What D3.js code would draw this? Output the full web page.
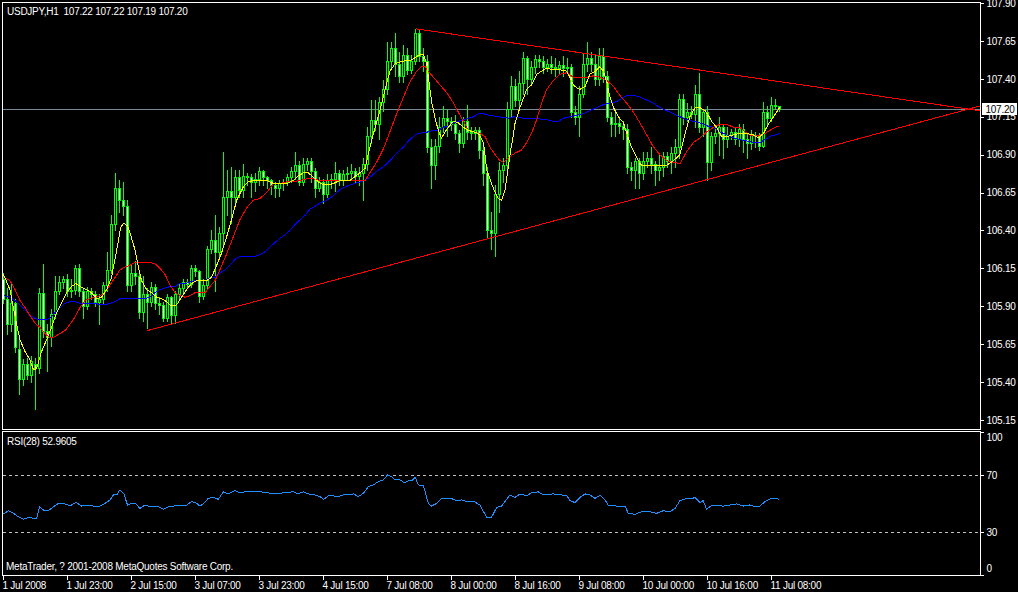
<!DOCTYPE html>
<html><head><meta charset="utf-8">
<script src="https://cdn.jsdelivr.net/npm/d3@7"></script>
<style>html,body{margin:0;padding:0;background:#000;overflow:hidden}svg{display:block}</style>
</head><body>
<svg id="c" width="1018" height="592"></svg>
<script>
// ---------- DATA ----------
const chartTitle = "USDJPY,H1  107.22 107.22 107.19 107.20";
const rsiTitle = "RSI(28) 52.9605";
const copyright = "MetaTrader, ? 2001-2008 MetaQuotes Software Corp.";
const lastPrice = 107.20;

const timeTicks = [0,16,32,48,64,80,96,112,128,144,160,176,192];
const timeLabels = ["1 Jul 2008","1 Jul 23:00","2 Jul 15:00","3 Jul 07:00","3 Jul 23:00","4 Jul 15:00","7 Jul 08:00","8 Jul 00:00","8 Jul 16:00","9 Jul 08:00","10 Jul 00:00","10 Jul 16:00","11 Jul 08:00"];
const priceTicks = [107.90,107.65,107.40,107.15,106.90,106.65,106.40,106.15,105.90,105.65,105.40,105.15];
const rsiTicks = [100,70,30,0];
const rsiLevels = [70,30];

const barOpen = [106.08,105.95,105.78,105.92,105.62,105.42,105.52,105.45,105.52,105.49,
105.99,105.74,105.70,105.85,106.00,106.06,106.08,106.00,106.01,106.15,
106.00,105.90,106.00,105.98,105.93,105.95,106.04,106.14,106.44,106.68,
106.60,106.56,106.04,106.12,106.10,105.86,105.98,105.93,106.03,105.92,
105.91,105.82,105.96,105.84,105.98,106.02,106.06,106.05,106.15,106.13,
105.97,106.04,106.28,106.34,106.26,106.38,106.62,106.66,106.62,106.75,
106.67,106.76,106.75,106.72,106.74,106.79,106.75,106.73,106.70,106.68,
106.71,106.72,106.75,106.79,106.83,106.72,106.84,106.86,106.79,106.68,
106.72,106.64,106.73,106.74,106.78,106.73,106.77,106.78,106.79,106.76,
106.78,106.84,107.02,107.13,107.10,107.25,107.33,107.52,107.60,107.50,
107.42,107.56,107.46,107.52,107.70,107.55,107.52,106.95,106.83,106.96,
107.08,107.14,107.12,107.10,107.04,106.98,107.12,107.05,107.04,107.06,
106.93,106.78,106.40,106.38,106.64,106.80,106.83,107.20,107.35,107.26,
107.37,107.54,107.40,107.48,107.53,107.52,107.48,107.50,107.48,107.47,
107.49,107.47,107.48,107.18,107.15,107.30,107.50,107.54,107.50,107.40,
107.55,107.42,107.15,107.10,107.11,107.09,107.07,106.82,106.80,106.86,
106.78,106.86,106.88,106.84,106.80,106.82,106.89,106.86,106.91,106.95,
107.27,107.15,107.18,107.17,107.30,107.08,107.18,106.85,107.02,107.04,
107.08,107.00,107.03,107.05,107.00,107.07,107.00,106.98,107.03,107.02,
106.96,107.18,107.14,107.23,107.22];
const barHigh = [106.12,106.02,106.05,105.95,105.68,105.55,105.56,105.57,105.56,106.02,
106.18,105.78,105.88,106.10,106.10,106.10,106.11,106.08,106.17,106.18,
106.02,106.03,106.02,106.00,105.98,106.06,106.26,106.50,106.78,106.73,
106.72,106.60,106.18,106.20,106.14,106.10,106.02,106.06,106.05,105.96,
105.93,105.98,105.97,106.00,106.05,106.08,106.08,106.17,106.17,106.14,
106.08,106.30,106.40,106.50,106.42,106.92,106.80,106.82,106.80,106.80,
106.84,106.78,106.77,106.78,106.82,106.80,106.76,106.74,106.72,106.73,
106.74,106.77,106.82,106.92,106.86,106.88,106.88,106.88,106.81,106.75,
106.74,106.77,106.77,106.85,106.80,106.80,106.82,106.84,106.81,106.82,
106.88,107.08,107.26,107.26,107.28,107.39,107.64,107.64,107.70,107.58,
107.62,107.60,107.56,107.73,107.72,107.60,107.56,107.00,107.00,107.15,
107.22,107.20,107.15,107.16,107.06,107.15,107.23,107.08,107.08,107.08,
106.95,106.82,106.52,106.70,106.85,106.88,107.25,107.42,107.40,107.45,
107.58,107.55,107.52,107.56,107.56,107.55,107.53,107.55,107.54,107.52,
107.55,107.54,107.50,107.22,107.35,107.57,107.64,107.58,107.56,107.60,
107.60,107.45,107.18,107.18,107.15,107.12,107.10,106.85,106.88,106.88,
106.92,106.92,106.95,106.86,106.90,106.92,106.92,106.95,107.00,107.30,
107.30,107.24,107.22,107.36,107.44,107.20,107.22,107.05,107.08,107.15,
107.10,107.08,107.07,107.08,107.10,107.10,107.04,107.06,107.05,107.04,
107.25,107.22,107.28,107.27,107.22];
const barLow = [105.92,105.72,105.74,105.60,105.32,105.38,105.42,105.40,105.22,105.46,
105.70,105.47,105.64,105.82,105.98,106.02,105.97,105.96,105.98,105.97,
105.82,105.88,105.95,105.90,105.78,105.92,106.00,106.12,106.40,106.52,
106.50,106.00,106.00,106.05,105.82,105.80,105.76,105.90,105.88,105.85,
105.80,105.80,105.78,105.79,105.95,105.98,106.02,106.03,106.10,105.93,
105.95,106.02,106.25,106.00,106.22,106.30,106.50,106.45,106.58,106.62,
106.62,106.70,106.62,106.66,106.70,106.70,106.68,106.64,106.62,106.63,
106.67,106.70,106.72,106.74,106.70,106.70,106.80,106.72,106.62,106.66,
106.58,106.62,106.68,106.66,106.70,106.70,106.73,106.74,106.72,106.70,
106.60,106.80,106.98,107.06,107.00,107.19,107.30,107.48,107.42,107.38,
107.38,107.43,107.44,107.50,107.52,107.45,106.92,106.68,106.74,106.92,
107.05,107.02,107.06,107.00,106.92,106.95,107.00,107.00,107.00,106.88,
106.70,106.35,106.28,106.23,106.52,106.72,106.80,107.15,107.22,107.22,
107.30,107.30,107.36,107.44,107.48,107.44,107.45,107.44,107.42,107.43,
107.42,107.44,107.15,107.10,107.02,107.28,107.45,107.45,107.36,107.36,
107.38,107.12,107.02,107.02,107.04,107.00,106.78,106.73,106.68,106.68,
106.74,106.82,106.78,106.70,106.73,106.76,106.82,106.78,106.82,106.88,
107.10,107.12,107.14,107.08,107.05,107.02,106.73,106.80,106.98,106.90,
106.88,106.95,107.00,106.97,106.96,106.92,106.88,106.94,106.95,106.93,
106.95,107.10,107.12,107.20,107.19];
const barClose = [105.95,105.78,105.92,105.63,105.42,105.52,105.45,105.54,105.49,105.99,
105.74,105.70,105.85,106.00,106.06,106.08,106.00,106.01,106.15,106.00,
105.90,106.00,105.98,105.93,105.95,106.04,106.14,106.44,106.68,106.60,
106.56,106.04,106.12,106.10,105.86,105.98,105.93,106.03,105.92,105.91,
105.82,105.96,105.84,105.98,106.02,106.06,106.05,106.15,106.13,105.97,
106.04,106.28,106.34,106.26,106.38,106.62,106.66,106.62,106.75,106.67,
106.76,106.75,106.72,106.74,106.79,106.75,106.73,106.70,106.68,106.71,
106.72,106.75,106.79,106.83,106.72,106.84,106.86,106.79,106.68,106.72,
106.64,106.73,106.74,106.78,106.73,106.77,106.78,106.79,106.76,106.78,
106.84,107.02,107.13,107.10,107.25,107.33,107.52,107.60,107.50,107.42,
107.56,107.46,107.52,107.70,107.55,107.52,106.95,106.83,106.96,107.08,
107.14,107.12,107.10,107.04,106.98,107.12,107.05,107.04,107.06,106.93,
106.78,106.40,106.38,106.64,106.80,106.83,107.20,107.35,107.26,107.37,
107.54,107.40,107.48,107.53,107.52,107.48,107.50,107.48,107.47,107.49,
107.47,107.48,107.18,107.15,107.30,107.50,107.54,107.50,107.40,107.55,
107.42,107.15,107.10,107.11,107.09,107.07,106.82,106.80,106.86,106.78,
106.86,106.88,106.84,106.80,106.82,106.89,106.86,106.91,106.95,107.27,
107.15,107.18,107.17,107.30,107.08,107.18,106.85,107.02,107.04,107.08,
107.00,107.03,107.05,107.00,107.07,107.00,106.98,107.03,107.02,106.96,
107.18,107.14,107.23,107.22,107.20];

// moving averages: [bar index, price]
const maFast = [[0,106.11],[1.6,106.01],[2.9,105.83],[4.1,105.68],[5.4,105.60],[6.6,105.55],[7.5,105.48],[8.3,105.49],[9.5,105.60],[10.8,105.68],[12,105.76],[13.3,105.86],[14.5,105.92],[15.8,105.99],[17,106.03],[18.1,106.05],[19.1,106.03],[20.8,106.01],[22,105.99],[23.3,105.95],[24.5,105.96],[25.8,106.01],[27,106.09],[28.3,106.27],[29.3,106.42],[30.1,106.45],[31.2,106.42],[32,106.35],[32.9,106.27],[33.7,106.16],[34.5,106.07],[35.8,106.01],[37,105.99],[38.3,105.96],[39.5,105.95],[40.8,105.93],[42,105.90],[43.3,105.91],[44.5,105.96],[45.8,106.01],[47,106.05],[48.3,106.07],[49.5,106.07],[50.8,106.07],[52,106.09],[53.3,106.17],[54.5,106.25],[55.8,106.36],[57,106.47],[58.3,106.60],[60,106.69],[61.2,106.72],[62.5,106.73],[64.1,106.73],[65.8,106.73],[67.5,106.71],[69.1,106.71],[70.8,106.71],[72.5,106.73],[73.7,106.76],[75,106.78],[76.2,106.78],[77.5,106.75],[78.7,106.72],[80,106.70],[81.2,106.70],[82.5,106.71],[84.1,106.73],[86.6,106.73],[89.1,106.78],[90.4,106.81],[91.6,106.95],[92.9,107.08],[94.1,107.19],[95.4,107.33],[96.6,107.45],[97.9,107.50],[99.1,107.51],[100.4,107.52],[101.6,107.52],[102.9,107.54],[104.1,107.56],[105,107.56],[105.8,107.50],[106.5,107.35],[107.1,107.24],[107.9,107.14],[108.7,107.06],[109.5,107.01],[110.4,107.05],[111.2,107.08],[112.5,107.12],[113.7,107.11],[115,107.08],[116.2,107.06],[117.5,107.05],[118.7,107.04],[120,106.98],[120.8,106.80],[122,106.71],[122.9,106.65],[123.7,106.61],[124.5,106.60],[125.4,106.67],[126.2,106.82],[126.8,106.93],[127.3,107.00],[127.9,107.11],[129.1,107.21],[130.8,107.33],[132,107.36],[133.3,107.43],[134.5,107.45],[135.8,107.47],[137.5,107.46],[139.1,107.46],[140.8,107.45],[141.6,107.41],[142.5,107.36],[143.3,107.34],[144.1,107.33],[145.4,107.35],[146.6,107.43],[147.9,107.45],[149.1,107.48],[150,107.45],[150.8,107.38],[151.6,107.28],[152.5,107.21],[153.7,107.15],[155,107.11],[155.8,107.04],[157,106.95],[158.3,106.88],[159.5,106.83],[160.8,106.83],[162.5,106.83],[164.1,106.83],[165.8,106.83],[167.5,106.86],[169.1,106.90],[170.4,107.04],[171.6,107.15],[172.9,107.21],[174.1,107.21],[175.4,107.19],[176.2,107.16],[177,107.12],[178.3,107.08],[179.5,107.02],[180.8,107.02],[182.5,107.03],[184.1,107.04],[185.8,107.04],[187.5,107.03],[188.7,107.01],[190,107.04],[191.2,107.10],[192.5,107.15],[194,107.21]];
const maMid = [[0,106.09],[1.6,106.07],[2.9,106.01],[4.1,105.94],[5.4,105.89],[6.6,105.84],[7.9,105.79],[9.1,105.76],[10.4,105.72],[11.6,105.69],[12.9,105.70],[14.1,105.72],[15.4,105.74],[16.6,105.78],[17.9,105.83],[19.1,105.89],[20.4,105.94],[21.6,105.95],[22.9,105.96],[24.1,105.97],[25.4,105.99],[26.6,106.04],[27.9,106.09],[29.1,106.14],[30.4,106.16],[31.6,106.17],[32.9,106.19],[34.1,106.19],[35.4,106.19],[36.6,106.19],[37.9,106.18],[39.1,106.15],[40.4,106.11],[41.6,106.04],[42.9,105.99],[44.1,105.97],[45.4,105.96],[46.6,105.97],[47.9,105.99],[49.1,105.99],[50.4,105.99],[51.6,106.03],[52.9,106.07],[54.1,106.14],[55.4,106.22],[56.6,106.30],[57.9,106.39],[59.1,106.47],[60.8,106.55],[62.5,106.60],[64.1,106.61],[65.8,106.65],[67.5,106.71],[69.1,106.71],[70.8,106.72],[72.5,106.72],[74.1,106.73],[75.8,106.74],[77.5,106.74],[79.1,106.73],[82.5,106.73],[86.6,106.73],[90.4,106.73],[91.6,106.78],[93.3,106.85],[95,106.94],[96.6,107.05],[98.3,107.17],[100,107.28],[101.6,107.38],[103.3,107.45],[104.5,107.48],[105.4,107.48],[106.2,107.45],[107.5,107.41],[109.1,107.36],[110.8,107.31],[112.5,107.24],[113.7,107.18],[115,107.12],[116.2,107.06],[117.5,107.05],[119.1,107.04],[120.4,107.02],[121.6,106.95],[122.9,106.90],[124.1,106.86],[125,106.85],[126.2,106.88],[127.9,106.91],[129.5,106.93],[130.8,106.98],[132,107.04],[133.3,107.13],[134.5,107.24],[135.8,107.33],[137.5,107.39],[139.1,107.43],[140.8,107.44],[142.5,107.41],[144.1,107.41],[145.8,107.41],[147.5,107.42],[149.1,107.41],[150.8,107.39],[152.5,107.35],[154.1,107.29],[155.8,107.24],[157.5,107.18],[159.1,107.11],[160.8,107.03],[162.5,106.95],[164.1,106.90],[165.8,106.86],[167.5,106.85],[169.1,106.84],[170.8,106.92],[172.5,106.98],[174.1,107.01],[175.8,107.05],[177.5,107.08],[179.1,107.10],[180.8,107.10],[182.5,107.08],[184.1,107.08],[185.4,107.05],[186.6,107.03],[187.9,107.02],[189.1,107.03],[190.4,107.04],[191.6,107.06],[192.9,107.08],[194,107.09]];
const maSlow = [[0,105.97],[1.6,105.96],[3.3,105.93],[4.9,105.89],[6.6,105.84],[7.9,105.82],[9.1,105.81],[10.4,105.81],[11.6,105.82],[12.9,105.86],[14.1,105.89],[15.4,105.92],[16.6,105.93],[17.9,105.93],[19.1,105.92],[22.9,105.92],[24.1,105.91],[25.4,105.91],[26.6,105.92],[27.9,105.93],[29.1,105.95],[30.4,105.95],[35.4,105.95],[36.6,105.96],[37.9,105.99],[39.1,106.01],[40.4,106.02],[41.6,106.03],[42.9,106.03],[44.1,106.05],[45.4,106.05],[46.6,106.06],[47.9,106.07],[50.4,106.07],[51.6,106.09],[52.9,106.09],[54.1,106.12],[55.4,106.14],[56.6,106.17],[57.9,106.21],[59.1,106.23],[62.9,106.23],[64.1,106.24],[65.4,106.26],[66.6,106.29],[67.9,106.32],[69.1,106.35],[70.4,106.37],[71.6,106.40],[72.9,106.44],[74.1,106.47],[75.4,106.50],[76.6,106.54],[77.9,106.56],[79.1,106.58],[80.8,106.60],[82.5,106.63],[84.1,106.67],[86.6,106.70],[89.1,106.72],[90.4,106.73],[91.6,106.75],[93.3,106.79],[95,106.82],[96.6,106.86],[98.3,106.91],[100,106.95],[101.6,107.00],[102.9,107.03],[103.7,107.04],[106.2,107.05],[107.5,107.06],[108.7,107.06],[110,107.08],[111.2,107.09],[112.5,107.11],[113.7,107.12],[115,107.13],[116.2,107.14],[117.5,107.15],[118.7,107.17],[120,107.17],[121.2,107.16],[123.7,107.15],[126.2,107.14],[127.5,107.15],[130,107.14],[132.5,107.14],[135.8,107.13],[137.5,107.12],[138.7,107.12],[140,107.14],[141.6,107.15],[143.3,107.16],[145,107.17],[146.6,107.19],[148.3,107.21],[150,107.23],[151.6,107.24],[153.3,107.25],[154.5,107.27],[155.8,107.29],[157.5,107.29],[159.1,107.28],[160.8,107.26],[162.5,107.24],[164.1,107.21],[165.8,107.19],[167.5,107.17],[169.1,107.15],[170.8,107.13],[172.5,107.12],[174.1,107.11],[175.8,107.09],[177.5,107.08],[179.1,107.05],[180.8,107.03],[182.5,107.01],[184.1,107.00],[185.8,106.99],[187.5,106.98],[189.1,106.98],[190.4,107.00],[191.6,107.02],[192.9,107.03],[194,107.04]];

// RSI(28): [bar index, value]
const rsiValues = [[0,42.6],[1.2,44.9],[2.5,43.1],[3.7,40.7],[5,38.9],[6.2,40.3],[7.5,39.6],[8.3,39.6],[9,47.8],[10,45.4],[11.2,44.9],[12.5,47.8],[13.7,50.1],[15,50.1],[16.2,48.9],[17,48.9],[18.1,50.8],[19.5,48.2],[20.8,48.9],[22.5,48.2],[24.1,48.2],[25.4,50.1],[26.6,52.5],[27.5,56.0],[28.3,56.0],[29.1,59.5],[30.1,56.7],[31,48.9],[32,50.1],[33.1,49.7],[34.1,46.6],[35.4,48.9],[36.5,47.8],[37.5,48.2],[38.7,47.8],[40,45.9],[41.2,47.8],[42.5,48.2],[43.7,48.9],[45.8,48.9],[47,51.3],[48.3,50.1],[49.1,48.2],[50.1,50.1],[51.2,53.6],[52.5,54.3],[53.7,52.9],[55,58.3],[56.2,56.7],[57.9,59.0],[59.1,57.6],[60.8,58.3],[64.1,58.3],[65.8,57.6],[67.5,56.7],[69.1,57.2],[70.8,57.6],[72.5,58.3],[73.7,56.7],[75,58.3],[76.2,56.7],[77.9,56.0],[79.1,54.8],[80,52.9],[81.2,55.3],[82.5,55.3],[83.7,54.8],[85,56.0],[86.2,56.0],[87.5,56.7],[88.7,54.8],[90,57.2],[91.2,61.8],[92.5,63.0],[93.7,65.3],[95,66.5],[96,70.0],[97,68.8],[97.9,66.5],[99.1,66.5],[100.2,64.6],[101.2,65.8],[102,65.8],[102.9,68.4],[103.7,63.0],[105,62.3],[106.2,50.1],[107,48.2],[108.3,50.1],[109.5,53.4],[110.8,53.4],[112,53.4],[113.3,52.0],[114.5,52.5],[115.8,51.3],[117.5,51.6],[119.1,48.9],[120.8,40.3],[122,40.3],[123.3,47.3],[124.5,48.2],[126.6,56.0],[127.9,54.3],[129.1,56.7],[130.8,55.3],[132,57.6],[133.7,58.1],[135,56.0],[137.4,56.7],[139.1,56.0],[140.8,55.8],[141.6,52.0],[142.9,50.6],[144.1,54.3],[145.4,56.7],[146.6,56.0],[147.9,53.6],[149.1,55.8],[150.4,52.5],[151.2,48.7],[153.3,48.2],[155.4,48.2],[156.2,43.1],[157.9,42.4],[159.5,44.3],[161.6,44.3],[163.3,43.1],[164.9,44.9],[166.6,44.3],[167.9,46.6],[169.1,52.0],[170.4,53.2],[172,53.2],[172.9,54.3],[174.1,50.6],[174.9,52.0],[175.8,45.9],[177,48.7],[179.9,48.2],[181.6,48.9],[183.3,49.7],[184.9,48.2],[186.6,49.0],[187.9,47.8],[189.1,48.2],[190.4,51.3],[191.6,53.2],[192.9,53.6],[194,52.96]];

// trend lines: [bar index, price]
const trendUpper = [[103,107.73],[244,107.19]];
const trendLower = [[36,105.74],[244,107.22]];

// ---------- DRAW ----------
const FONT = "'Liberation Sans', Arial, sans-serif";
const FS = 10;
const svg = d3.select('#c');
svg.append('rect').attr('width',1018).attr('height',592).attr('fill','#000');

const x = d3.scaleLinear().domain([0,244]).range([3.5,979.5]);
const y = d3.scaleLinear().domain([105.15,107.90]).range([420,3]);
const yr = d3.scaleLinear().domain([0,100]).range([575,432]);
const crisp = v => Math.round(v) + 0.5;

const defs = svg.append('defs');
defs.append('clipPath').attr('id','mainClip').append('rect').attr('x',3).attr('y',3).attr('width',977).attr('height',426);
defs.append('clipPath').attr('id','rsiClip').append('rect').attr('x',3).attr('y',432).attr('width',977).attr('height',143);

const main = svg.append('g').attr('clip-path','url(#mainClip)');

// current price line
main.append('line').attr('x1',2).attr('x2',980)
  .attr('y1',crisp(y(lastPrice))).attr('y2',crisp(y(lastPrice)))
  .attr('stroke','#778899').attr('shape-rendering','crispEdges');

// candles
const bars = d3.range(barOpen.length).map(i => ({i, o:barOpen[i], h:barHigh[i], l:barLow[i], c:barClose[i]}));
const gC = main.append('g').attr('shape-rendering','crispEdges');
gC.selectAll('line.wick').data(bars).join('line').attr('class','wick')
  .attr('x1',d=>x(d.i)).attr('x2',d=>x(d.i))
  .attr('y1',d=>Math.round(y(d.h))).attr('y2',d=>Math.round(y(d.l))+1)
  .attr('stroke','#00ff00');
gC.selectAll('path.body').data(bars).join('path').attr('class','body')
  .attr('d',d=>{
    const t = crisp(y(Math.max(d.o,d.c))), b = crisp(y(Math.min(d.o,d.c)));
    const xl = x(d.i)-1, xr = x(d.i)+1;
    return `M${xl},${t}H${xr}V${b}H${xl}Z`;
  })
  .attr('fill',d=> d.c>d.o ? '#000' : (d.c<d.o ? '#fff' : 'none'))
  .attr('stroke','#00ff00');

// moving averages
const maLine = d3.line().x(d=>x(d[0])).y(d=>y(d[1]));
[[maSlow,'#0000ff'],[maMid,'#ff0000'],[maFast,'#ffff00']].forEach(([data,col])=>{
  main.append('path').datum(data).attr('d',maLine).attr('fill','none')
    .attr('stroke',col).attr('stroke-width',1).attr('shape-rendering','crispEdges');
});

// trend lines
[trendUpper,trendLower].forEach(t=>{
  main.append('path').datum(t).attr('d',maLine).attr('fill','none')
    .attr('stroke','#ff0000').attr('stroke-width',1).attr('shape-rendering','crispEdges');
});

// RSI panel
const rsiG = svg.append('g').attr('clip-path','url(#rsiClip)');
rsiG.selectAll('line.lvl').data(rsiLevels).join('line').attr('class','lvl')
  .attr('x1',3).attr('x2',980)
  .attr('y1',d=>crisp(yr(d))).attr('y2',d=>crisp(yr(d)))
  .attr('stroke','#c0c0c0').attr('stroke-dasharray','3,3').attr('shape-rendering','crispEdges');
const rsiLine = d3.line().x(d=>x(d[0])).y(d=>yr(d[1]));
rsiG.append('path').datum(rsiValues).attr('d',rsiLine).attr('fill','none')
  .attr('stroke','#1e90ff').attr('stroke-width',1).attr('shape-rendering','crispEdges');

// panel borders
svg.append('rect').attr('x',2.5).attr('y',2.5).attr('width',978).attr('height',427)
  .attr('fill','none').attr('stroke','#fff').attr('shape-rendering','crispEdges');
svg.append('rect').attr('x',2.5).attr('y',431.5).attr('width',978).attr('height',144)
  .attr('fill','none').attr('stroke','#fff').attr('shape-rendering','crispEdges');

function styleAxis(g){
  g.select('.domain').remove();
  g.attr('font-family',FONT).attr('font-size',FS);
  g.selectAll('line').attr('stroke','#fff').attr('shape-rendering','crispEdges');
  g.selectAll('text').attr('fill','#fff').style('letter-spacing','-0.25px');
}

// price axis
const pAx = svg.append('g').attr('transform','translate(980.5,0)')
  .call(d3.axisRight(y).tickValues(priceTicks).tickSize(3).tickPadding(3).tickFormat(d3.format('.2f')));
styleAxis(pAx);

// last price label
svg.append('rect').attr('x',982).attr('y',Math.round(y(lastPrice))-6).attr('width',35).attr('height',12).attr('fill','#fff');
svg.append('text').attr('x',985.5).attr('y',y(lastPrice)).attr('dy','0.36em')
  .attr('font-family',FONT).attr('font-size',FS).style('letter-spacing','-0.25px')
  .attr('fill','#000').text(d3.format('.2f')(lastPrice));

// RSI axis
const rAx = svg.append('g').attr('transform','translate(980.5,0)')
  .call(d3.axisRight(yr).tickValues(rsiTicks).tickSize(3).tickPadding(3));
styleAxis(rAx);
rAx.selectAll('.tick text').attr('y',d=> d===100 ? 5 : (d===0 ? -7 : 0));

// time axis
const tAx = svg.append('g').attr('transform','translate(0,575.5)')
  .call(d3.axisBottom(x).tickValues(timeTicks).tickSize(4).tickPadding(2).offset(0).tickFormat((d,i)=>timeLabels[i]));
styleAxis(tAx);
tAx.selectAll('.tick text').attr('text-anchor','start').attr('x',-1);

// texts
const txt = (s,tx,ty)=>svg.append('text').attr('x',tx).attr('y',ty)
  .attr('font-family',FONT).attr('font-size',FS).attr('fill','#fff')
  .style('white-space','pre').style('letter-spacing','-0.25px').text(s);
txt(chartTitle,7,14.5);
txt(rsiTitle,7,445);
txt(copyright,6,570);
</script>
</body></html>
